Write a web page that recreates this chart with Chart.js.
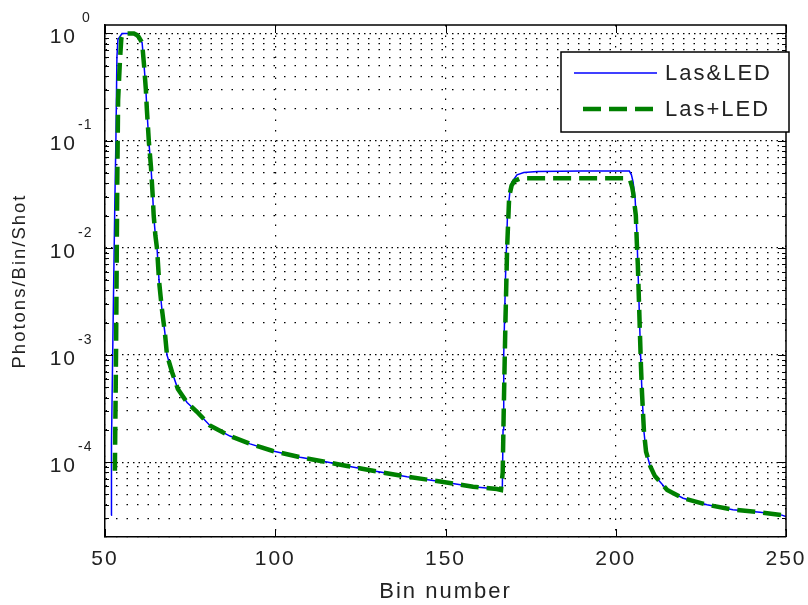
<!DOCTYPE html>
<html>
<head>
<meta charset="utf-8">
<script src="https://cdn.jsdelivr.net/npm/chart.js@4/dist/chart.umd.min.js"></script>
<style>
  html, body { margin: 0; padding: 0; background: #fff; }
  canvas { display: block; }
</style>
</head>
<body>
<canvas id="binChart" width="808" height="605"></canvas>
<script>
// values (bin number / photons per bin per shot)
const seriesNames = ['Las&LED', 'Las+LED'];

const binsLasAndLed = [51.8, 51.9, 52.35, 52.9, 53.2, 53.5, 53.8, 55.0, 58.2, 59.0, 59.7, 60.9, 61.5, 62.0, 62.3,
  62.9, 63.5, 64.0, 64.3, 64.8, 65.3, 65.9, 66.7, 67.6, 68.2, 69.7, 71.4, 74.1, 77.0, 80.8, 86.7, 92.6, 99.3,
  107.3, 115.2, 121.1, 128.7, 138.7, 148.4, 158.1, 165.1, 166.3, 166.7, 166.9, 167.1, 167.6, 167.9, 168.2,
  168.9, 169.5, 171.0, 173.0, 177.0, 190.0, 204.0, 204.6, 205.1, 205.7, 206.2, 206.5, 206.8, 207.1, 207.4,
  207.7, 208.0, 208.3, 208.9, 210.1, 211.5, 215.1, 219.8, 226.8, 234.4, 242.4, 248.8, 250.0];
const valsLasAndLed = [3.2e-5, 1.5e-4, 1.7e-3, 0.028, 0.098, 0.6, 0.88, 1.0, 1.0, 0.98, 0.94, 0.82, 0.49, 0.30, 0.195,
  0.096, 0.057, 0.031, 0.020, 0.013, 0.0097, 0.0048, 0.0027, 0.0016, 1.0e-3, 6.9e-4, 4.8e-4, 3.6e-4, 2.95e-4, 2.2e-4, 1.75e-4, 1.48e-4, 1.27e-4,
  1.11e-4, 1.0e-4, 9.2e-5, 8.3e-5, 7.3e-5, 6.6e-5, 5.9e-5, 5.6e-5, 5.4e-5, 6.0e-5, 2.0e-4, 1.0e-3, 5.0e-3, 1.0e-2, 0.02,
  0.033, 0.041, 0.048, 0.0505, 0.0515, 0.052, 0.052, 0.048, 0.041, 0.0284, 0.014, 0.0067, 0.0033, 0.0016, 7.9e-4,
  4.5e-4, 2.9e-4, 1.9e-4, 1.25e-4, 9.2e-5, 7.4e-5, 5.5e-5, 4.6e-5, 4.0e-5, 3.6e-5, 3.4e-5, 3.2e-5, 3.1e-5];

const binsLasPlusLed = [52.9, 53.25, 53.6, 53.85, 54.4, 54.8, 55.4, 58.5, 59.3, 59.9, 60.9, 61.5, 62.0, 62.3,
  62.9, 63.5, 64.0, 64.3, 64.8, 65.3, 65.9, 66.7, 67.6, 68.2, 69.7, 71.4, 74.1, 77.0, 80.8, 86.7, 92.6, 99.3,
  107.3, 115.2, 121.1, 128.7, 138.7, 148.4, 158.1, 165.1, 166.3, 166.8, 167.1, 167.6, 168.1, 168.7, 169.4,
  170.2, 172.0, 203.4, 204.2, 204.8, 205.1, 205.6, 205.9, 206.2, 206.5, 206.8, 207.1, 207.4,
  207.7, 208.0, 208.3, 208.9, 210.1, 211.5, 215.1, 219.8, 226.8, 234.4, 242.4, 248.8, 250.0];
const valsLasPlusLed = [8.3e-5, 1.1e-3, 0.04, 0.24, 0.57, 0.9, 1.0, 1.0, 0.97, 0.93, 0.82, 0.49, 0.30, 0.195,
  0.096, 0.057, 0.031, 0.020, 0.013, 0.0097, 0.0048, 0.0027, 0.0016, 1.0e-3, 6.9e-4, 4.8e-4, 3.6e-4, 2.95e-4, 2.2e-4, 1.75e-4, 1.48e-4, 1.27e-4,
  1.11e-4, 1.0e-4, 9.2e-5, 8.3e-5, 7.3e-5, 6.6e-5, 5.9e-5, 5.6e-5, 5.5e-5, 8.0e-5, 3.0e-4, 2.0e-3, 1.0e-2, 0.03, 0.038,
  0.042, 0.0445, 0.0445, 0.043, 0.037, 0.033, 0.024, 0.02, 0.011, 0.0067, 0.0033, 0.0016, 7.9e-4,
  4.5e-4, 2.9e-4, 1.9e-4, 1.25e-4, 9.2e-5, 7.4e-5, 5.5e-5, 4.6e-5, 4.0e-5, 3.6e-5, 3.4e-5, 3.2e-5, 3.1e-5];

const xTickValues = [50, 100, 150, 200, 250];
const yRange = [2e-5, 1.2];
const yDecades = [-5, -4, -3, -2, -1, 0];

const FONT = '"Liberation Sans", Arial, sans-serif';
const SPACING = '2px';

function isDecade(v) {
  const l = Math.log10(v);
  return Math.abs(l - Math.round(l)) < 1e-9;
}

function toPoints(xs, ys) {
  return xs.map((x, i) => ({ x: x, y: ys[i] }));
}

// no extra room for overhanging tick labels, the box is fixed by layout padding
function noOverhang(s) {
  s.paddingTop = 0;
  s.paddingBottom = 0;
  s.paddingLeft = 0;
  s.paddingRight = 0;
}

// ticks drawn inward, top/right box, exponents of the y labels, legend
const matlabFrame = {
  id: 'matlabFrame',
  beforeUpdate(chart) {
    chart.ctx.letterSpacing = SPACING;
  },
  beforeDraw(chart) {
    const ctx = chart.ctx;
    ctx.letterSpacing = SPACING;
    ctx.save();
    ctx.fillStyle = '#fff';
    ctx.fillRect(0, 0, chart.width, chart.height);
    ctx.restore();
  },
  afterDraw(chart) {
    const { ctx, chartArea: a, scales: { x, y } } = chart;
    ctx.save();
    ctx.strokeStyle = '#000';
    ctx.lineWidth = 1.5;
    ctx.setLineDash([]);
    ctx.beginPath();
    ctx.moveTo(a.left, a.top);
    ctx.lineTo(a.right, a.top);
    ctx.lineTo(a.right, a.bottom);
    ctx.stroke();

    ctx.lineWidth = 1;
    ctx.beginPath();
    y.ticks.forEach(t => {
      if (t.value <= yRange[0]) return;
      const py = Math.round(y.getPixelForValue(t.value)) + 0.5;
      const len = t.major ? 8 : 4;
      ctx.moveTo(a.left, py); ctx.lineTo(a.left + len, py);
      ctx.moveTo(a.right, py); ctx.lineTo(a.right - len, py);
    });
    x.ticks.forEach(t => {
      const px = Math.round(x.getPixelForValue(t.value)) + 0.5;
      ctx.moveTo(px, a.bottom); ctx.lineTo(px, a.bottom - 8);
      ctx.moveTo(px, a.top); ctx.lineTo(px, a.top + 8);
    });
    ctx.stroke();

    // exponents
    ctx.fillStyle = '#222';
    ctx.font = '14px ' + FONT;
    ctx.letterSpacing = '1px';
    ctx.textAlign = 'left';
    ctx.textBaseline = 'middle';
    y.ticks.forEach(t => {
      if (!t.major || !t.label) return;
      const py = y.getPixelForValue(t.value);
      const e = Math.round(Math.log10(t.value));
      ctx.fillText(String(e), e < 0 ? 78 : 82, py - 15);
    });

    // legend box
    const bx = a.right - 225, by = a.top + 27, bw = 228, bh = 80;
    ctx.fillStyle = '#fff';
    ctx.fillRect(bx, by, bw, bh);
    ctx.strokeStyle = '#000';
    ctx.lineWidth = 1.5;
    ctx.strokeRect(bx, by, bw, bh);
    const sets = chart.data.datasets;
    const rows = [by + 21, by + 57];
    ctx.font = '22px ' + FONT;
    ctx.letterSpacing = SPACING;
    sets.forEach((ds, i) => {
      ctx.strokeStyle = ds.borderColor;
      ctx.lineWidth = ds.borderWidth;
      ctx.setLineDash(ds.borderDash || []);
      ctx.beginPath();
      ctx.moveTo(bx + (ds.borderDash ? 22 : 13), rows[i]);
      ctx.lineTo(bx + 96, rows[i]);
      ctx.stroke();
      ctx.fillStyle = '#222';
      ctx.fillText(ds.label, bx + 104, rows[i] + 1);
    });
    ctx.restore();
  }
};

new Chart(document.getElementById('binChart'), {
  type: 'line',
  data: {
    datasets: [
      {
        label: seriesNames[0],
        data: toPoints(binsLasAndLed, valsLasAndLed),
        borderColor: '#0000ff',
        borderWidth: 1.5,
        pointRadius: 0,
        tension: 0,
        order: 1
      },
      {
        label: seriesNames[1],
        data: toPoints(binsLasPlusLed, valsLasPlusLed),
        borderColor: '#008000',
        borderWidth: 4.5,
        borderDash: [18, 8],
        pointRadius: 0,
        tension: 0,
        order: 0
      }
    ]
  },
  options: {
    responsive: false,
    animation: false,
    devicePixelRatio: 1,
    layout: { padding: { left: 0, right: 22, top: 25, bottom: 0 } },
    plugins: {
      legend: { display: false },
      tooltip: { enabled: false }
    },
    scales: {
      x: {
        type: 'linear',
        min: xTickValues[0],
        max: xTickValues[xTickValues.length - 1],
        afterBuildTicks: s => { s.ticks = xTickValues.map(v => ({ value: v })); },
        afterFit: s => { s.height = 68; noOverhang(s); },
        ticks: {
          autoSkip: false,
          maxRotation: 0,
          padding: 10,
          color: '#222',
          font: { family: FONT, size: 21 }
        },
        grid: { color: '#000', lineWidth: 1.2, drawTicks: false },
        border: {
          display: true, color: '#000', width: 1.5,
          dash: c => (c.tick ? [1.5, 9] : [])
        },
        title: {
          display: true,
          text: 'Bin number',
          color: '#222',
          font: { family: FONT, size: 22 },
          padding: { top: 0, bottom: 0 }
        }
      },
      y: {
        type: 'logarithmic',
        min: yRange[0],
        max: yRange[1],
        afterBuildTicks: s => {
          const t = [];
          yDecades.forEach(d => {
            for (let k = 1; k <= 9; k++) {
              const v = k * Math.pow(10, d);
              if (v >= yRange[0] * 0.999 && v <= yRange[1]) t.push({ value: v, major: k === 1 });
            }
          });
          s.ticks = t;
        },
        afterFit: s => { s.width = 105; noOverhang(s); },
        ticks: {
          autoSkip: false,
          padding: 28,
          labelOffset: 4,
          color: '#222',
          font: { family: FONT, size: 21 },
          callback: v => (isDecade(v) ? '10' : '')
        },
        grid: { color: '#000', lineWidth: 1.2, drawTicks: false },
        border: {
          display: true, color: '#000', width: 1.5,
          dash: c => (c.tick ? (isDecade(c.tick.value) ? [1.5, 4] : [1.5, 9]) : [])
        },
        title: {
          display: true,
          text: 'Photons/Bin/Shot',
          color: '#222',
          font: { family: FONT, size: 18.5 },
          padding: { top: 9, bottom: 0 }
        }
      }
    }
  },
  plugins: [matlabFrame]
});
</script>
</body>
</html>
